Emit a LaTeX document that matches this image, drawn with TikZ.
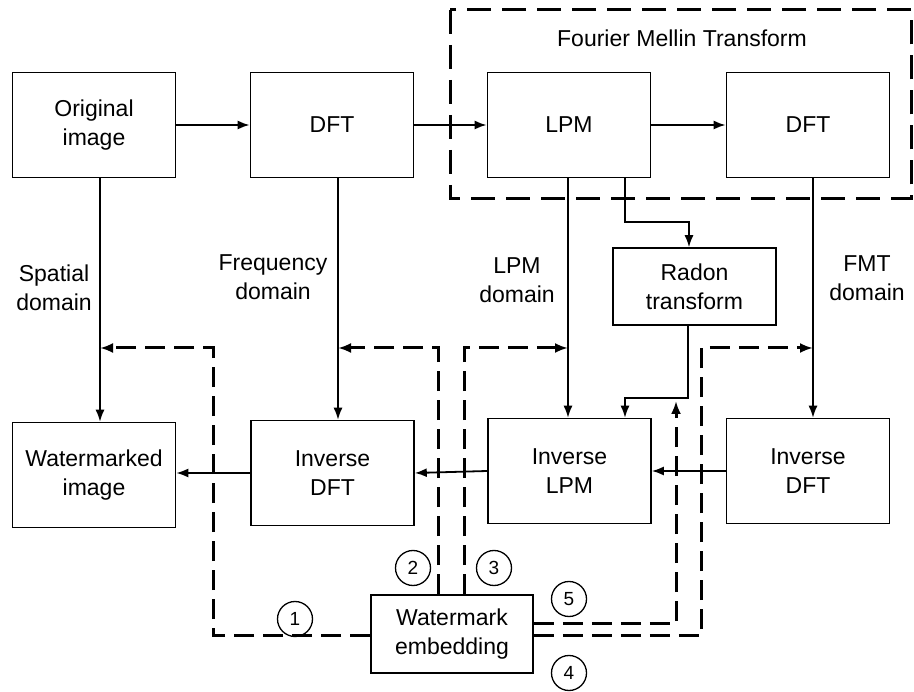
\documentclass[tikz,border=0pt]{standalone}
\usepackage{fontspec}
\setmainfont{Liberation Sans}
\usetikzlibrary{arrows.meta}
\begin{document}
\begin{tikzpicture}[x=1pt,y=-1pt,
  box/.style={draw,line width=1.6pt,minimum width=163pt,minimum height=105pt,inner sep=0pt,align=center,font=\fontsize{23}{29}\selectfont},
  lbl/.style={align=center,font=\fontsize{23}{29}\selectfont,inner sep=0pt},
  conn/.style={line width=1.5pt,-{Latex[length=12pt,width=9pt]}},
  wmark/.style={line width=3pt,dash pattern=on 20pt off 9pt,-{Latex[length=13pt,width=10pt]}},
  num/.style={draw,circle,line width=1.3pt,minimum size=35pt,inner sep=0pt,font=\fontsize{19}{19}\selectfont}]
\useasboundingbox (0,0) rectangle (914,692);

% FMT frame
\draw[line width=3pt,dash pattern=on 24pt off 11pt] (450,10) rectangle (911.5,199);
\node[lbl] (fmt) at (682,38) {Fourier Mellin Transform};

% boxes
\node[box] (orig) at (94,125) {Original\\image};
\node[box] (dfta) at (332,125) {DFT};
\node[box] (lpm) at (569,125) {LPM};
\node[box] (dftb) at (808,125) {DFT};
\node[box] (wimg) at (94,475) {Watermarked\\image};
\node[box] (idfta) at (332.5,473) {Inverse\\DFT};
\node[box] (ilpm) at (569.5,471) {Inverse\\LPM};
\node[box] (idftb) at (808,471) {Inverse\\DFT};
\node[box,minimum height=77pt] (radon) at (694.5,286.5) {Radon\\transform};
\node[box,minimum height=78pt,minimum width=162pt] (embed) at (452,634) {Watermark\\embedding};

% domain labels
\node[lbl] (ls) at (54,288) {Spatial\\domain};
\node[lbl] (lf) at (273,277) {Frequency\\domain};
\node[lbl] (ll) at (517,280) {LPM\\domain};
\node[lbl] (lt) at (867,278) {FMT\\domain};

% helper coordinates
\coordinate (xs) at (100,348);
\coordinate (xf) at (338,348);
\coordinate (xl) at (568,348);
\coordinate (xt) at (813,348);
\coordinate (ra) at (625,222);
\coordinate (rb) at (689,222);
\coordinate (rc) at (688,398);
\coordinate (rd) at (625,398);

% top row arrows
\draw[conn,line width=2pt] (orig.east) -- (dfta.west);
\draw[conn,line width=2pt] (dfta.east) -- (lpm.west);
\draw[conn,line width=2pt] (lpm.east) -- (dftb.west);

% vertical connectors
\draw[conn] (orig.south -| xs) -- (wimg.north -| xs);
\draw[conn] (dfta.south -| xf) -- (idfta.north -| xf);
\draw[conn] (lpm.south -| xl) -- (ilpm.north -| xl);
\draw[conn] (dftb.south -| xt) -- (idftb.north -| xt);

% radon path
\draw[conn] (lpm.south -| ra) -- (ra) -- (rb) -- (radon.north -| rb);
\draw[conn] (radon.south -| rc) -- (rc) -- (rd) -- (ilpm.north -| rd);

% bottom row arrows
\draw[conn,line width=1.8pt] (idftb.west) -- (ilpm.east);
\draw[conn,line width=1.8pt] (ilpm.west) -- (idfta.east);
\draw[conn,line width=1.8pt] (idfta.west) -- (wimg.east |- idfta.west);

% watermark embedding paths
\coordinate (ya) at (0,636);
\coordinate (yb) at (0,624);
\coordinate (c1) at (213,636);
\coordinate (c1b) at (213,348);
\coordinate (c2) at (438,348);
\coordinate (c3) at (464,348);
\coordinate (c5) at (676,624);
\coordinate (c5t) at (676,401);
\coordinate (c4) at (701,636);
\coordinate (c4t) at (701,348);

\draw[wmark] (embed.west |- ya) -- (c1) -- (c1b) -- (xs);
\draw[wmark] (embed.north -| c2) -- (c2) -- (xf);
\draw[wmark] (embed.north -| c3) -- (c3) -- (xl);
\draw[wmark] (embed.east |- yb) -- (c5) -- (c5t);
\draw[wmark] (embed.east |- ya) -- (c4) -- (c4t) -- (xt);

% circled numbers
\node[num] (n1) at (295,619) {1};
\node[num] (n2) at (413,568) {2};
\node[num] (n3) at (494,568) {3};
\node[num] (n5) at (569,599) {5};
\node[num] (n4) at (569,673) {4};
\end{tikzpicture}
\end{document}
